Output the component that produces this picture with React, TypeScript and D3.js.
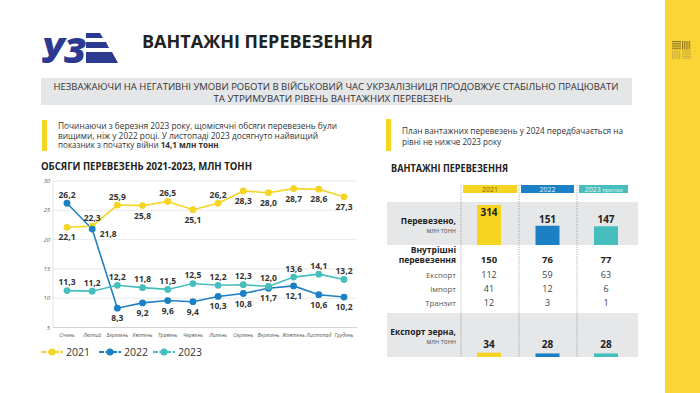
import React from "react";
import * as d3 from "d3";

const months = ["Січень", "Лютий", "Березень", "Квітень", "Травень", "Червень", "Липень", "Серпень", "Вересень", "Жовтень", "Листопад", "Грудень"];
const series2021 = [22.1, 22.3, 25.9, 25.8, 26.5, 25.1, 26.2, 28.3, 28.0, 28.7, 28.6, 27.3];
const series2022 = [26.2, 21.8, 8.3, 9.2, 9.6, 9.4, 10.3, 10.8, 11.7, 12.1, 10.6, 10.2];
const series2023 = [11.3, 11.2, 12.2, 11.8, 11.5, 12.5, 12.2, 12.3, 12.0, 13.6, 14.1, 13.2];
const seriesNames = ["2021", "2022", "2023"];
const yTicks = [5, 10, 15, 20, 25, 30];

const tableHeaders = ["2021", "2022", "2023 прогноз"];
const transported = [314, 151, 147];
const domestic = [150, 76, 77];
const exportVals = [112, 59, 63];
const importVals = [41, 12, 6];
const transitVals = [12, 3, 1];
const grainVals = [34, 28, 28];

const YELLOW = "#F6D422";
const BLUE = "#1C80C4";
const TEAL = "#45BEBD";
const colors = [YELLOW, BLUE, TEAL];
const FONT = "'Open Sans', 'Noto Sans', sans-serif";

const fmt = (v: number) => v.toFixed(1).replace(".", ",");

export default function App() {
  const x = d3.scalePoint<string>().domain(months).range([67, 344]);
  const y = d3.scaleLinear().domain([5, 30]).range([327.5, 181]);
  const line = d3
    .line<number>()
    .x((_, i) => x(months[i]) as number)
    .y((d) => y(d));
  const allSeries = [series2021, series2022, series2023];

  // label placement: 'a' above, 'b' below, 'r' right
  const place = (s: number, i: number): string => {
    if (s === 0) return [0, 3, 5, 7].includes(i) || i > 7 ? "b" : "a";
    if (s === 1) return i === 0 ? "a" : i === 1 ? "r" : "b";
    return "a";
  };

  const colX = d3.scalePoint<number>().domain([0, 1, 2]).range([489, 606]);
  const barH = d3.scaleLinear().domain([0, 314]).range([0, 40]);
  const headerX = [[463, 517], [521, 574], [579, 628]];
  const dividers = [461, 519, 577];

  const rows = [
    { label: "Експорт", vals: exportVals, y: 278 },
    { label: "Імпорт", vals: importVals, y: 292 },
    { label: "Транзит", vals: transitVals, y: 306 },
  ];

  return (
    <svg width={700} height={393} style={{ position: "absolute", left: 0, top: 0, background: "#fff" }} fontFamily={FONT}>
      <rect width={700} height={393} fill="#fff" />
      {/* sidebar */}
      <rect x={665} y={0} width={35} height={393} fill="#FBD535" />
      <g stroke="#7a6420" strokeWidth={0.8}>
        {[0, 1, 2, 3, 4].map((k) => (
          <line key={"h1" + k} x1={672} x2={681} y1={41.5 + k * 1.8} y2={41.5 + k * 1.8} />
        ))}
        {[0, 1, 2, 3, 4].map((k) => (
          <line key={"v1" + k} x1={682.5 + k * 1.8} x2={682.5 + k * 1.8} y1={41} y2={49.5} />
        ))}
      </g>
      <g stroke="#b39a3a" strokeWidth={0.8} opacity={0.8}>
        {[0, 1, 2, 3, 4].map((k) => (
          <line key={"v2" + k} x1={672.5 + k * 1.8} x2={672.5 + k * 1.8} y1={50.5} y2={59} />
        ))}
        {[0, 1, 2, 3, 4].map((k) => (
          <line key={"h2" + k} x1={682} x2={691} y1={51 + k * 1.8} y2={51 + k * 1.8} />
        ))}
      </g>

      {/* logo */}
      <text x={41} y={63} fontSize={36} fontWeight={800} fill="#2B3990" fontStyle="italic" textLength={45} lengthAdjust="spacingAndGlyphs">УЗ</text>
      <polygon points="86,33 100,33 103,38 86,38" fill="#2B3990" />
      <polygon points="86,42 106,42 109,48 86,48" fill="#2B3990" />
      <polygon points="86,52 112,52 118,63 86,63" fill="#2B3990" />

      <text x={142} y={48} fontSize={17} fontWeight={700} fill="#222" textLength={231} lengthAdjust="spacingAndGlyphs">ВАНТАЖНІ ПЕРЕВЕЗЕННЯ</text>

      {/* banner */}
      <rect x={41} y={78} width={591} height={27} fill="#E5E6E8" />
      <text x={336} y={89.8} fontSize={9} fill="#333" textAnchor="middle" textLength={565} lengthAdjust="spacingAndGlyphs">
        НЕЗВАЖАЮЧИ НА НЕГАТИВНІ УМОВИ РОБОТИ В ВІЙСЬКОВИЙ ЧАС УКРЗАЛІЗНИЦЯ ПРОДОВЖУЄ СТАБІЛЬНО ПРАЦЮВАТИ
      </text>
      <text x={333} y={101.6} fontSize={9} fill="#333" textAnchor="middle" textLength={239} lengthAdjust="spacingAndGlyphs">
        ТА УТРИМУВАТИ РІВЕНЬ ВАНТАЖНИХ ПЕРЕВЕЗЕНЬ
      </text>

      {/* notes */}
      <rect x={42} y={120} width={5} height={31} fill={YELLOW} />
      <g fontSize={8.1} fill="#333">
        <text x={58} y={129} textLength={279} lengthAdjust="spacingAndGlyphs">Починаючи з березня 2023 року, щомісячні обсяги перевезень були</text>
        <text x={58} y={138.6} textLength={260} lengthAdjust="spacingAndGlyphs">вищими, ніж у 2022 році. У листопаді 2023 досягнуто найвищий</text>
        <text x={58} y={148.2}>
          показник з початку війни <tspan fontWeight={700}>14,1 млн тонн</tspan>
        </text>
      </g>
      <rect x={386} y={119} width={5} height={32} fill={YELLOW} />
      <g fontSize={8.1} fill="#333">
        <text x={402} y={134} textLength={221} lengthAdjust="spacingAndGlyphs">План вантажних перевезень у 2024 передбачається на</text>
        <text x={402} y={144.5}>рівні не нижче 2023 року</text>
      </g>

      {/* line chart */}
      <text x={41} y={170} fontSize={10.5} fontWeight={700} fill="#222" textLength={211} lengthAdjust="spacingAndGlyphs">ОБСЯГИ ПЕРЕВЕЗЕНЬ 2021-2023, МЛН ТОНН</text>
      <g>
        {yTicks.map((t) => (
          <g key={t}>
            <line x1={53} x2={357} y1={y(t)} y2={y(t)} stroke={t === 5 ? "#c8c8c8" : "#e3e3e3"} strokeWidth={0.8} />
            <text x={50} y={y(t) + 2} fontSize={6} fontStyle="italic" fill="#666" textAnchor="end">{t}</text>
          </g>
        ))}
        <line x1={53} x2={53} y1={y(30)} y2={y(5)} stroke="#dcdcdc" strokeWidth={0.8} />
        {months.map((m) => (
          <text key={m} x={x(m)} y={337} fontSize={5.2} fontStyle="italic" fill="#555" textAnchor="middle">{m}</text>
        ))}
        {allSeries.map((s, si) => (
          <path key={"l" + si} d={line(s) || ""} fill="none" stroke={colors[si]} strokeWidth={1.6} />
        ))}
        {allSeries.map((s, si) =>
          s.map((v, i) => (
            <circle key={"c" + si + "-" + i} cx={x(months[i])} cy={y(v)} r={3.4} fill={colors[si]} />
          ))
        )}
        {allSeries.map((s, si) =>
          s.map((v, i) => {
            const p = place(si, i);
            const px = x(months[i]) as number;
            const py = y(v);
            let tx = px, ty = py - 5.5;
            if (p === "b") ty = py + 13;
            if (p === "r") { tx = px + 16; ty = py + 8; }
            return (
              <text key={"t" + si + "-" + i} x={tx} y={ty} fontSize={8.5} fontWeight={700} fill="#333" textAnchor="middle">{fmt(v)}</text>
            );
          })
        )}
      </g>

      {/* legend */}
      {seriesNames.map((n, i) => {
        const lx = [41, 99, 153][i];
        return (
          <g key={n}>
            <line x1={lx} x2={lx + 22} y1={352} y2={352} stroke={colors[i]} strokeWidth={2} strokeDasharray="5,1.5" />
            <circle cx={lx + 11} cy={352} r={3.6} fill={colors[i]} />
            <text x={lx + 25} y={356} fontSize={10.5} fill="#333">{n}</text>
          </g>
        );
      })}

      {/* table */}
      <text x={391} y={172} fontSize={10.5} fontWeight={700} fill="#222" textLength={117} lengthAdjust="spacingAndGlyphs">ВАНТАЖНІ ПЕРЕВЕЗЕННЯ</text>
      <rect x={387} y={202} width={251} height={43} fill="#E6E7E8" />
      <rect x={387} y={313} width={251} height={44} fill="#E6E7E8" />
      {dividers.map((d) => (
        <line key={d} x1={d} x2={d} y1={185} y2={357} stroke="#777" strokeWidth={0.7} strokeDasharray="1,1.3" />
      ))}
      {tableHeaders.map((h, i) => {
        const [a, b] = headerX[i];
        return (
          <g key={h}>
            <rect x={a} y={185} width={b - a} height={8} fill={colors[i]} />
            {i < 2 ? (
              <text x={(a + b) / 2} y={191.6} fontSize={7} fill={i === 0 ? "#7a6a10" : "#e8f2fa"} textAnchor="middle">{h}</text>
            ) : (
              <text x={(a + b) / 2} y={191.6} fontSize={7} fill="#e8f8f8" textAnchor="middle">
                2023 <tspan fontSize={5}>прогноз</tspan>
              </text>
            )}
          </g>
        );
      })}
      <text x={456} y={224} fontSize={8.5} fontWeight={700} fill="#222" textAnchor="end">Перевезено,</text>
      <text x={456} y={233} fontSize={6.5} fill="#555" textAnchor="end">млн тонн</text>
      {transported.map((v, i) => {
        const cx = colX(i) as number;
        const h = barH(v);
        return (
          <g key={"tr" + i}>
            <rect x={cx - 12} y={245 - h} width={24} height={h} fill={colors[i]} />
            <text x={cx} y={i === 0 ? 215.5 : 222.5} fontSize={10} fontWeight={700} fill="#222" textAnchor="middle">{v}</text>
          </g>
        );
      })}
      <text x={456} y={253} fontSize={8.5} fontWeight={700} fill="#222" textAnchor="end">Внутрішні</text>
      <text x={456} y={263} fontSize={8.5} fontWeight={700} fill="#222" textAnchor="end">перевезення</text>
      {domestic.map((v, i) => (
        <text key={"d" + i} x={colX(i)} y={262.5} fontSize={9.5} fontWeight={700} fill="#222" textAnchor="middle">{v}</text>
      ))}
      {rows.map((r) => (
        <g key={r.label}>
          <text x={456} y={r.y} fontSize={7.8} fill="#555" textAnchor="end">{r.label}</text>
          {r.vals.map((v, i) => (
            <text key={i} x={colX(i)} y={r.y} fontSize={9} fill="#444" textAnchor="middle">{v}</text>
          ))}
        </g>
      ))}
      <text x={456} y={335} fontSize={8.5} fontWeight={700} fill="#222" textAnchor="end">Експорт зерна,</text>
      <text x={456} y={344} fontSize={6.5} fill="#555" textAnchor="end">млн тонн</text>
      {grainVals.map((v, i) => {
        const cx = colX(i) as number;
        const h = barH(v);
        return (
          <g key={"g" + i}>
            <text x={cx} y={348} fontSize={10} fontWeight={700} fill="#222" textAnchor="middle">{v}</text>
            <rect x={cx - 12} y={357 - h} width={24} height={h} fill={colors[i]} />
          </g>
        );
      })}
    </svg>
  );
}
